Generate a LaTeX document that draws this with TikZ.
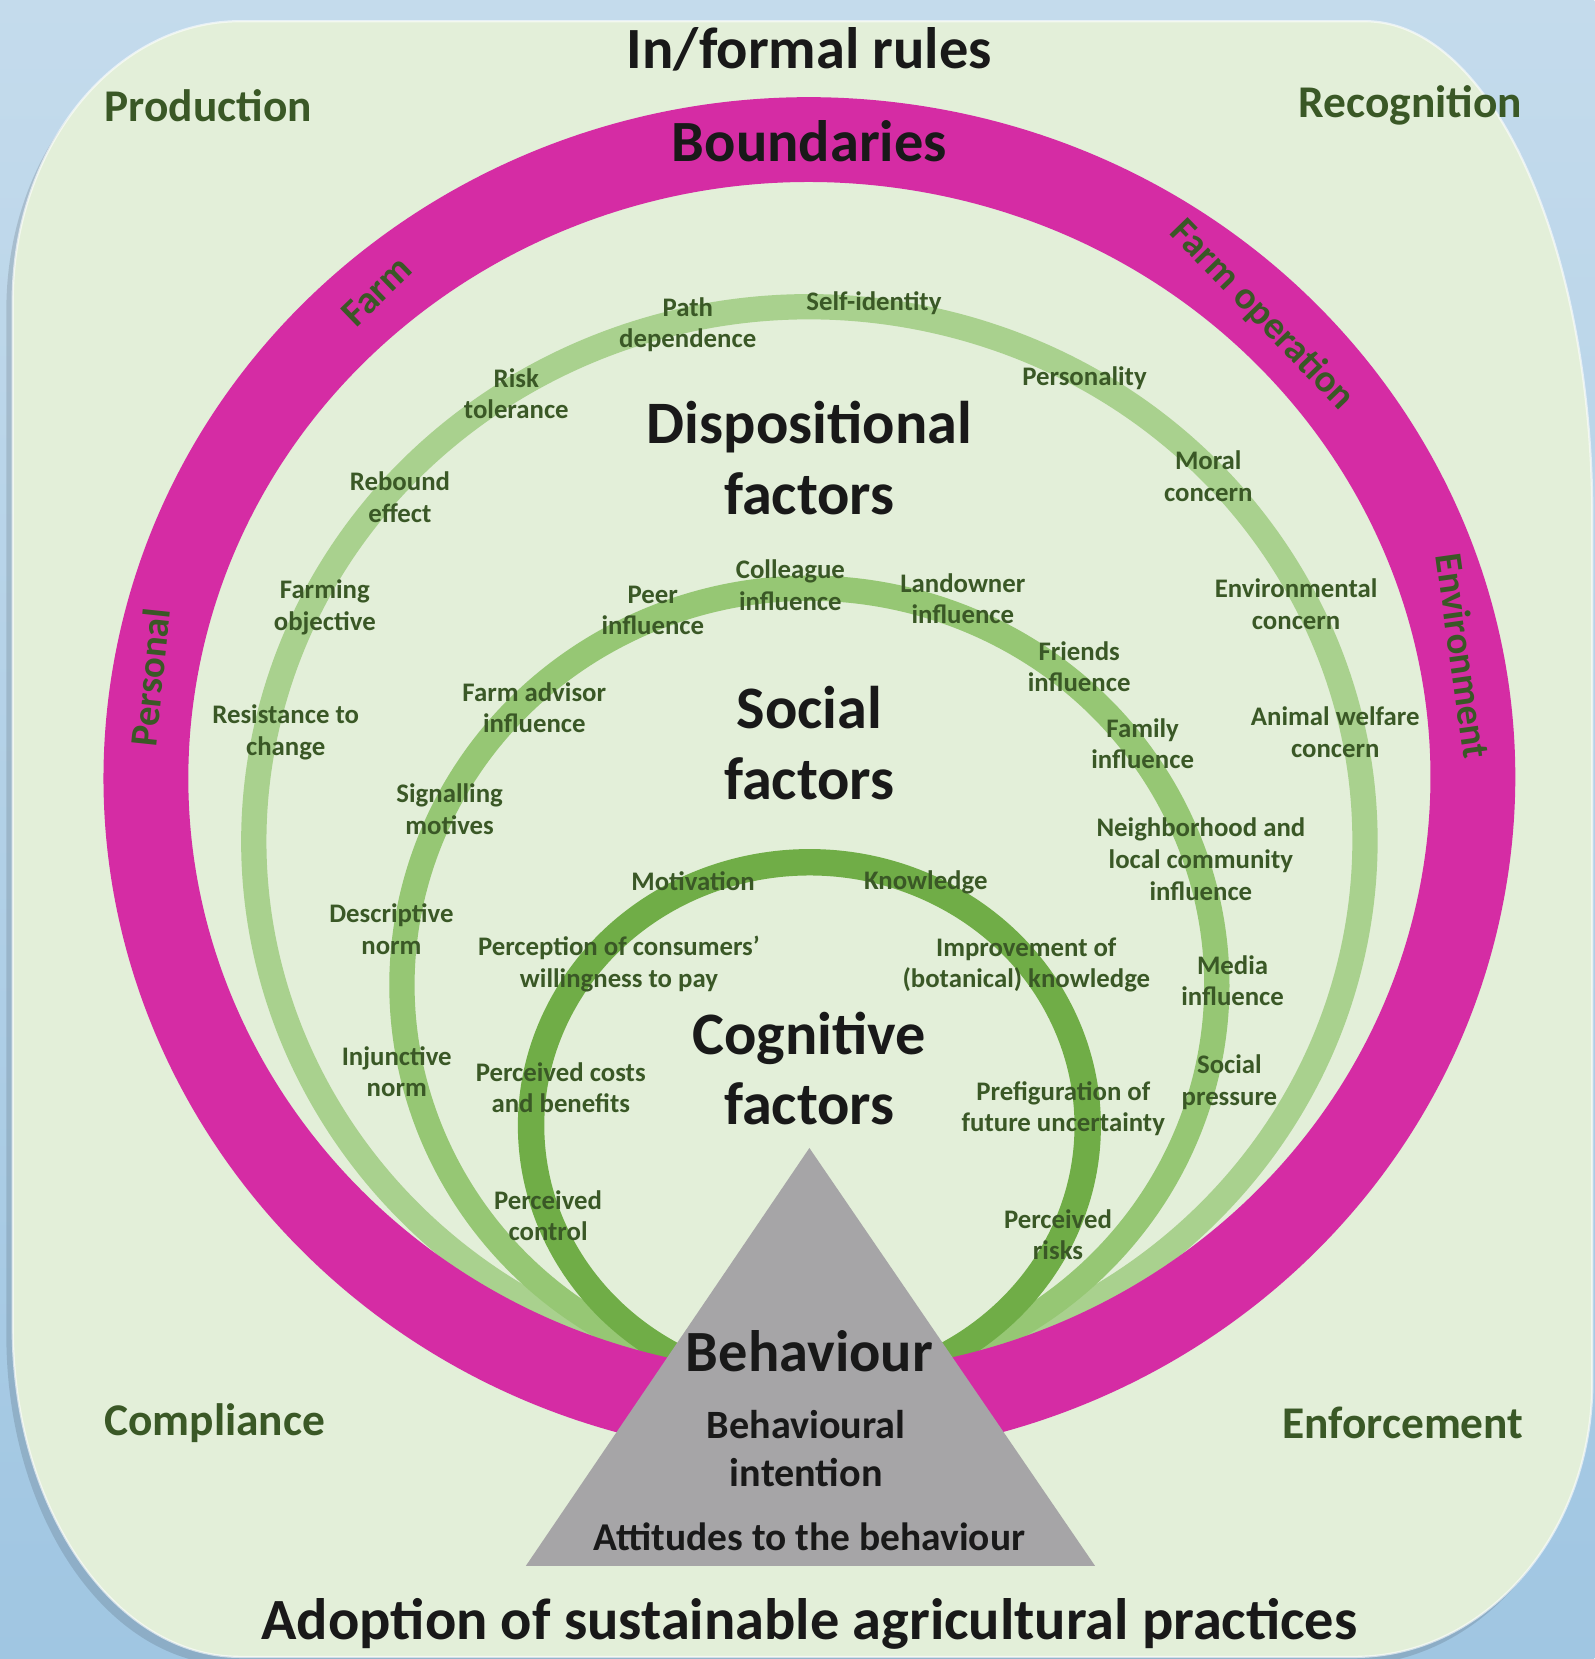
\documentclass[tikz,border=0pt]{standalone}
\usepackage{fontspec}
\setmainfont{Carlito}

\definecolor{fondo}{RGB}{160,198,226}
\definecolor{fondoclaro}{RGB}{196,219,236}
\definecolor{panel}{RGB}{227,239,217}
\definecolor{rosa}{RGB}{213,44,164}
\definecolor{verdeA}{RGB}{169,209,142}
\definecolor{verdeB}{RGB}{150,199,116}
\definecolor{verdeC}{RGB}{112,173,71}
\definecolor{verdeosc}{RGB}{58,88,38}
\definecolor{gris}{RGB}{166,165,167}
\definecolor{tinta}{RGB}{25,25,25}

\begin{document}
\begin{tikzpicture}[x=0.01cm,y=-0.01cm,
    titulo/.style={font=\fontsize{15.7}{18}\selectfont\bfseries, text=tinta},
    factor/.style={font=\fontsize{16.2}{19}\selectfont\bfseries, text=tinta, align=center},
    esquina/.style={font=\fontsize{12.2}{14}\selectfont\bfseries, text=verdeosc},
    anillo/.style={font=\fontsize{10.4}{12}\selectfont\bfseries, text=verdeosc},
    etiq/.style={font=\fontsize{7.2}{8.5}\selectfont\bfseries, text=verdeosc, align=center},
    borde/.style={insert path={(12,285)
        arc[start angle=180, end angle=270, x radius=215, y radius=265] -- (1290,20)
        arc[start angle=270, end angle=360, x radius=215, y radius=470] -- (1505,1306)
        arc[start angle=0, end angle=90, x radius=225, y radius=260] -- (227,1566)
        arc[start angle=90, end angle=180, x radius=215, y radius=312] -- cycle}}]

    % parámetros (centro común de los anillos)
    \def\cx{765}

    % fondo y panel
    \useasboundingbox (0,0) rectangle (1507,1568);
    \shade[top color=fondoclaro, bottom color=fondo] (0,0) rectangle (1507,1568);
    \fill[black, opacity=.12, shift={(-6,8)}] [borde];
    \fill[panel, draw=white, draw opacity=.6, line width=.6pt] [borde];

    %—————— anillos de factores ——————
    % disposicionales
    \draw[verdeA, line width=6.8pt] (\cx,795) ++(104:525 and 505)
        arc[start angle=104, end angle=436, x radius=525, y radius=505];
    % sociales
    \draw[verdeB, line width=6.8pt] (\cx,931) ++(109:385 and 375)
        arc[start angle=109, end angle=431, x radius=385, y radius=375];
    % cognitivos
    \draw[verdeC, line width=7.1pt] (\cx,1064) ++(118:263 and 249)
        arc[start angle=118, end angle=422, x radius=263, y radius=249];

    %—————— límites ——————
    \draw[rosa, line width=22.8pt] (\cx,735) ++(100:627 and 603)
        arc[start angle=100, end angle=440, x radius=627, y radius=603];
    \node[titulo] (limites) at (\cx,133) {Boundaries};
    \node[anillo, rotate=44] (granja) at (356,275) {Farm};
    \node[anillo, rotate=-46] (operacion) at (1193,298) {Farm operation};
    \node[anillo, rotate=84] (personal) at (142,640) {Personal};
    \node[anillo, rotate=-82] (ambiente) at (1383,620) {Environment};

    % títulos de los anillos
    \node[factor] (disp) at (\cx,433) {Dispositional\\factors};
    \node[factor] (soc) at (\cx,702) {Social\\factors};
    \node[factor] (cog) at (\cx,1010) {Cognitive\\factors};

    % factores disposicionales
    \node[etiq] (path) at (650,307) {Path\\dependence};
    \node[etiq] (selfid) at (826,287) {Self-identity};
    \node[etiq] (riesgo) at (488,372) {Risk\\tolerance};
    \node[etiq] (persona) at (1025,357) {Personality};
    \node[etiq] (rebote) at (378,470) {Rebound\\effect};
    \node[etiq] (moral) at (1142,450) {Moral\\concern};
    \node[etiq] (objetivo) at (307,574) {Farming\\objective};
    \node[etiq] (ambiental) at (1225,571) {Environmental\\concern};
    \node[etiq] (resist) at (270,692) {Resistance to\\change};
    \node[etiq] (animal) at (1262,692) {Animal welfare\\concern};

    % factores sociales
    \node[etiq] (pares) at (617,577) {Peer\\influence};
    \node[etiq] (colega) at (747,553) {Colleague\\influence};
    \node[etiq] (dueno) at (910,566) {Landowner\\influence};
    \node[etiq] (amigos) at (1020,630) {Friends\\influence};
    \node[etiq] (asesor) at (505,669) {Farm advisor\\influence};
    \node[etiq] (familia) at (1080,703) {Family\\influence};
    \node[etiq] (senal) at (425,765) {Signalling\\motives};
    \node[etiq] (vecinos) at (1135,812) {Neighborhood and\\local community\\influence};
    \node[etiq] (descr) at (370,878) {Descriptive\\norm};
    \node[etiq] (medios) at (1165,927) {Media\\influence};
    \node[etiq] (injunt) at (375,1013) {Injunctive\\norm};
    \node[etiq] (presion) at (1162,1023) {Social\\pressure};

    % factores cognitivos
    \node[etiq] (motiv) at (655,833) {Motivation};
    \node[etiq] (conoc) at (875,834) {Knowledge};
    \node[etiq] (consum) at (585,911) {Perception of consumers’\\willingness to pay};
    \node[etiq] (mejora) at (970,912) {Improvement of\\(botanical) knowledge};
    \node[etiq] (costos) at (530,1028) {Perceived costs\\and benefits};
    \node[etiq] (incert) at (1005,1048) {Prefiguration of\\future uncertainty};
    \node[etiq] (control) at (518,1149) {Perceived\\control};
    \node[etiq] (riesgos) at (1000,1167) {Perceived\\risks};

    %—————— conducta ——————
    \coordinate (cima) at (\cx,1085);
    \coordinate (bizq) at (497,1480);
    \coordinate (bder) at (1035,1480);
    \fill[gris] (cima) -- (bizq) -- (bder) -- cycle;
    \node[titulo] (conducta) at (\cx,1277) {Behaviour};
    \node[font=\fontsize{10.8}{12.8}\selectfont\bfseries, text=tinta, align=center]
        (intencion) at (762,1369) {Behavioural\\intention};
    \node[font=\fontsize{10.6}{13}\selectfont\bfseries, text=tinta] (actitud) at (\cx,1452) {Attitudes to the behaviour};

    % textos del marco
    \node[titulo] (reglas) at (\cx,47) {In/formal rules};
    \node[esquina] (prod) at (197,100) {Production};
    \node[esquina] (recon) at (1333,100) {Recognition};
    \node[esquina] (cumpl) at (203,1345) {Compliance};
    \node[esquina] (aplic) at (1326,1345) {Enforcement};
    \node[titulo] (adopcion) at (\cx,1535) {Adoption of sustainable agricultural practices};
\end{tikzpicture}
\end{document}
